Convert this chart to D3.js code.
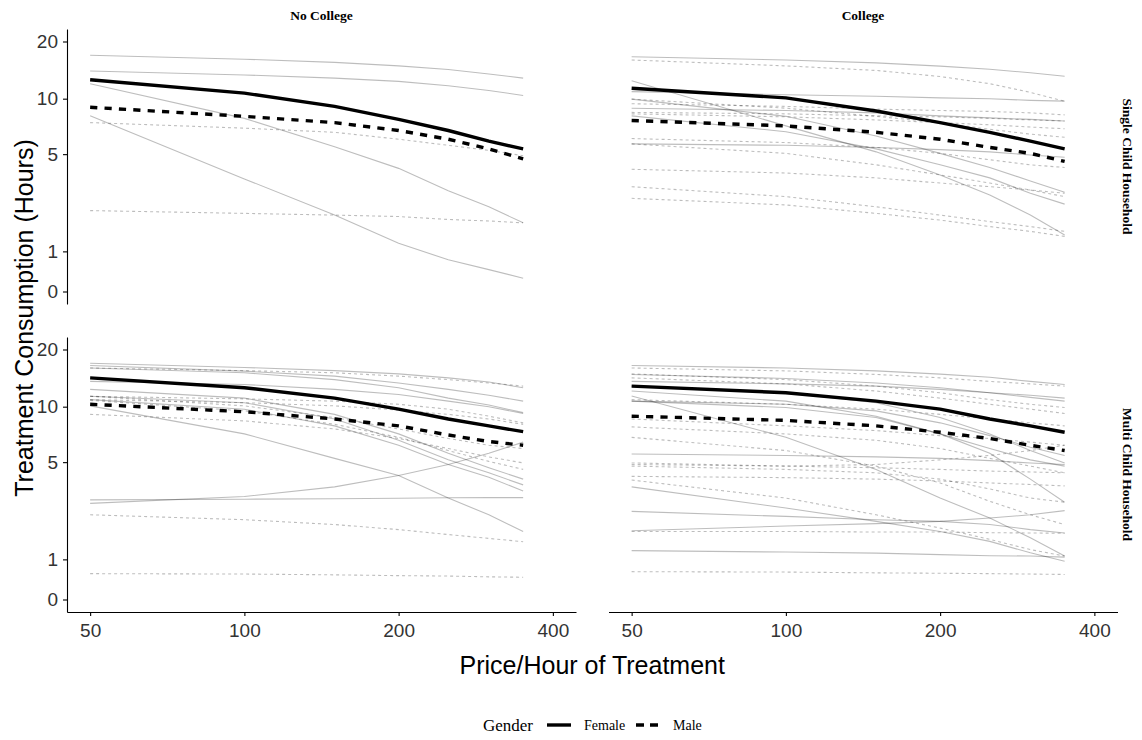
<!DOCTYPE html>
<html>
<head>
<meta charset="utf-8">
<script src="https://cdn.jsdelivr.net/npm/d3@7"></script>
<style>
  body { margin: 0; background: #fff; }
  .tick text { font-family: "Liberation Sans", Arial, sans-serif; font-size: 19px; fill: #333; }
  .tick line, .domain { stroke: #000; stroke-width: 1.1px; }
  .strip { font-family: "Liberation Serif", "Times New Roman", serif; font-weight: bold; font-size: 13.5px; }
  .title { font-family: "Liberation Sans", Arial, sans-serif; font-size: 25px; }
  .legend { font-family: "Liberation Serif", "Times New Roman", serif; }
</style>
</head>
<body>
<div id="chart"></div>
<script>
/* demand curves, faceted by college x household */

const prices = [50, 100, 150, 200, 250, 300, 350];
const xTicks = [50, 100, 200, 400];
const yTicks = [0, 1, 5, 10, 20];
const colleges = ["No College", "College"];
const households = ["Single Child Household", "Multi Child Household"];
const genders = ["Female", "Male"];

// No College, single child
const ncSingleFemale = [
  [16.95, 16.15, 15.55, 14.9, 14.25, 13.5, 12.85],
  [14.0, 13.35, 12.85, 12.35, 11.7, 11.05, 10.4],
  [12.0, 7.85, 5.5, 4.15, 3.05, 2.4, 1.84],
  [8.1, 3.6, 2.1, 1.22, 0.78, 0.53, 0.32]
];
const ncSingleMale = [
  [7.45, 6.95, 6.6, 6.05, 5.6, 5.25, 4.9],
  [2.26, 2.16, 2.1, 2.05, 1.95, 1.9, 1.84]
];
const ncSingleMeanF = [12.6, 10.7, 9.1, 7.75, 6.75, 5.9, 5.35];
const ncSingleMeanM = [9.0, 8.05, 7.45, 6.75, 6.05, 5.35, 4.7];

// College, single child
const cSingleFemale = [
  [16.65, 16.0, 15.45, 14.85, 14.3, 13.7, 13.15],
  [10.9, 10.5, 10.3, 10.1, 10.0, 9.8, 9.7],
  [12.45, 7.15, 5.15, 3.8, 2.87, 2.1, 1.46],
  [8.9, 8.65, 8.4, 8.1, 7.9, 7.75, 7.6],
  [8.1, 6.65, 5.35, 4.35, 3.65, 2.94, 2.5],
  [5.7, 5.6, 5.45, 5.3, 5.15, 4.95, 4.8],
  [9.95, 8.05, 6.3, 5.05, 4.2, 3.5, 2.98]
];
const cSingleMale = [
  [16.0, 14.9, 14.1, 13.1, 12.0, 10.8, 9.7],
  [9.4, 9.1, 8.8, 8.65, 8.55, 8.4, 8.2],
  [8.45, 8.3, 8.1, 8.0, 7.85, 7.7, 7.6],
  [8.3, 8.0, 7.7, 7.45, 7.25, 7.05, 6.9],
  [9.95, 8.9, 8.05, 7.45, 6.85, 6.45, 6.2],
  [6.1, 5.8, 5.45, 5.05, 4.65, 4.35, 4.2],
  [5.7, 5.05, 4.35, 3.8, 3.4, 3.08, 2.8],
  [4.1, 3.9, 3.65, 3.4, 3.23, 3.08, 2.94],
  [3.23, 2.8, 2.4, 2.1, 1.88, 1.72, 1.57],
  [2.73, 2.47, 2.16, 1.93, 1.72, 1.57, 1.42]
];
const cSingleMeanF = [11.35, 10.1, 8.6, 7.45, 6.6, 5.9, 5.35];
const cSingleMeanM = [7.65, 7.15, 6.6, 6.05, 5.45, 5.05, 4.55];

// No College, multi child
const ncMultiFemale = [
  [16.95, 16.1, 15.5, 14.9, 14.2, 13.5, 12.6],
  [16.5, 15.4, 14.5, 13.35, 12.35, 11.5, 10.7],
  [16.0, 15.1, 13.9, 12.6, 11.1, 10.2, 9.3],
  [13.6, 13.1, 12.35, 11.6, 10.7, 10.0, 9.2],
  [12.35, 11.1, 9.1, 7.15, 5.6, 4.65, 4.0],
  [11.35, 10.5, 8.6, 6.6, 5.15, 4.35, 3.7],
  [10.9, 9.7, 7.9, 6.2, 4.85, 4.1, 3.4],
  [10.1, 7.15, 5.25, 4.2, 3.08, 2.4, 1.82],
  [3.0, 3.03, 3.05, 3.07, 3.09, 3.1, 3.1],
  [2.85, 3.15, 3.6, 4.2, 4.85, 5.6, 6.45]
];
const ncMultiMale = [
  [16.0, 15.5, 15.1, 14.5, 13.9, 13.35, 12.85],
  [11.35, 11.0, 10.7, 10.3, 9.7, 8.9, 8.2],
  [10.9, 10.5, 10.1, 9.6, 9.1, 8.6, 8.05],
  [9.1, 8.4, 7.6, 6.75, 5.95, 5.35, 4.95],
  [10.8, 9.5, 8.05, 6.85, 5.8, 5.05, 4.55],
  [2.4, 2.22, 2.05, 1.88, 1.72, 1.6, 1.5],
  [0.63, 0.62, 0.6, 0.58, 0.57, 0.55, 0.54],
  [11.35, 10.1, 8.75, 7.6, 6.75, 6.2, 5.95]
];
const ncMultiMeanF = [14.2, 12.6, 11.1, 9.7, 8.6, 7.9, 7.35];
const ncMultiMeanM = [10.3, 9.4, 8.6, 7.9, 7.05, 6.5, 6.2];

// College, multi child
const cMultiFemale = [
  [16.5, 16.0, 15.45, 14.85, 14.3, 13.6, 13.1],
  [14.8, 14.1, 13.35, 12.6, 11.85, 11.2, 10.7],
  [13.6, 13.2, 12.85, 12.35, 11.85, 11.5, 11.1],
  [12.1, 10.7, 8.9, 7.15, 5.95, 5.15, 4.75],
  [11.4, 6.85, 4.55, 3.08, 2.28, 1.62, 1.09],
  [10.7, 10.3, 9.5, 8.2, 7.0, 6.05, 5.45],
  [5.55, 5.45, 5.35, 5.25, 5.1, 4.95, 4.85],
  [3.6, 2.66, 2.16, 1.82, 1.51, 1.18, 0.95],
  [2.53, 2.34, 2.22, 2.16, 2.05, 1.88, 1.77],
  [1.84, 2.0, 2.08, 2.16, 2.28, 2.4, 2.56],
  [1.24, 1.2, 1.17, 1.13, 1.1, 1.09, 1.06],
  [12.85, 11.85, 10.5, 8.75, 7.15, 5.8, 4.95],
  [10.7, 9.9, 8.75, 7.15, 5.6, 4.0, 2.9]
];
const cMultiMale = [
  [16.0, 15.45, 14.8, 14.2, 13.6, 13.2, 12.85],
  [14.9, 13.9, 12.85, 11.85, 10.9, 10.3, 9.9],
  [14.2, 13.2, 12.1, 11.1, 10.3, 9.7, 9.2],
  [10.9, 10.3, 9.7, 9.1, 8.6, 8.2, 7.9],
  [7.8, 7.15, 6.6, 5.95, 5.25, 4.75, 4.35],
  [6.85, 5.8, 4.75, 3.8, 2.94, 2.4, 2.05],
  [4.95, 4.75, 4.65, 4.55, 4.45, 4.4, 4.35],
  [4.75, 4.55, 4.35, 4.0, 3.5, 3.08, 2.9],
  [4.15, 4.08, 4.0, 3.9, 3.8, 3.72, 3.65],
  [3.95, 3.08, 2.4, 1.93, 1.57, 1.27, 1.09],
  [1.82, 1.82, 1.8, 1.8, 1.78, 1.77, 1.76],
  [0.68, 0.67, 0.65, 0.64, 0.63, 0.62, 0.61],
  [8.6, 7.9, 7.45, 7.0, 6.75, 6.45, 6.2],
  [4.85, 4.75, 4.85, 5.15, 5.45, 5.8, 6.2]
];
const cMultiMeanF = [12.85, 11.85, 10.7, 9.7, 8.6, 7.9, 7.3];
const cMultiMeanM = [8.9, 8.45, 7.9, 7.3, 6.75, 6.2, 5.8];

const panels = [
  { col: 0, row: 0, female: ncSingleFemale, male: ncSingleMale, meanF: ncSingleMeanF, meanM: ncSingleMeanM },
  { col: 1, row: 0, female: cSingleFemale, male: cSingleMale, meanF: cSingleMeanF, meanM: cSingleMeanM },
  { col: 0, row: 1, female: ncMultiFemale, male: ncMultiMale, meanF: ncMultiMeanF, meanM: ncMultiMeanM },
  { col: 1, row: 1, female: cMultiFemale, male: cMultiMale, meanF: cMultiMeanF, meanM: cMultiMeanM }
];

const width = 1142, height = 740;
const panelW = 509, panelH = 275;
const panelX = [67, 608.5],
    panelY = [29, 337];

const svg = d3.select("#chart")
    .append("svg")
    .attr("width", width)
    .attr("height", height);

// inverse hyperbolic sine on y, log on x, both padded 5%
const ihs = v => Math.asinh(v / 2);
const yPad = ihs(20) * 0.05;
const yInner = d3.scaleLinear()
    .domain([-yPad, ihs(20) + yPad])
    .range([panelH, 0]);
const y = v => yInner(ihs(v));

const x = d3.scaleLog()
    .domain([50 / Math.pow(2, 0.15), 400 * Math.pow(2, 0.15)])
    .range([0, panelW]);

const line = d3.line()
    .x((d, i) => x(prices[i]))
    .y(d => y(d));

panels.forEach(p => {
  const g = svg.append("g")
      .attr("transform", `translate(${panelX[p.col]},${panelY[p.row]})`);

  g.selectAll(".fem").data(p.female).join("path")       // individual females
      .attr("d", line)
      .attr("fill", "none")
      .attr("stroke", "#000")
      .attr("stroke-opacity", 0.26)
      .attr("stroke-width", 1.1);

  g.selectAll(".mal").data(p.male).join("path")          // individual males
      .attr("d", line)
      .attr("fill", "none")
      .attr("stroke", "#000")
      .attr("stroke-opacity", 0.26)
      .attr("stroke-width", 1.1)
      .attr("stroke-dasharray", "3,3");

  g.append("path")                // mean female
      .datum(p.meanF)
      .attr("d", line)
      .attr("fill", "none")
      .attr("stroke", "#000")
      .attr("stroke-width", 3.4);

  g.append("path")                // mean male
      .datum(p.meanM)
      .attr("d", line)
      .attr("fill", "none")
      .attr("stroke", "#000")
      .attr("stroke-width", 3.4)
      .attr("stroke-dasharray", "7.2,7.2");

  if (p.col === 0) {
    g.append("g")
        .call(d3.axisLeft(yInner)
            .tickValues(yTicks.map(ihs))
            .tickFormat(d => Math.round(2 * Math.sinh(d)))
            .tickSize(4).tickPadding(5).tickSizeOuter(0));
  }
  if (p.row === 1) {
    g.append("g")
        .attr("transform", `translate(0,${panelH})`)
        .call(d3.axisBottom(x)
            .tickValues(xTicks)
            .tickFormat(d3.format("d"))
            .tickSize(4).tickPadding(8).tickSizeOuter(0));
  }
  if (p.row === 0) {
    svg.append("text")
        .attr("class", "strip")
        .attr("x", panelX[p.col] + panelW / 2)
        .attr("y", 15)
        .attr("dy", "0.35em")
        .attr("text-anchor", "middle")
        .text(colleges[p.col]);
  }
  if (p.col === 1) {
    svg.append("text")
        .attr("class", "strip")
        .attr("transform", `translate(1128,${panelY[p.row] + panelH / 2}) rotate(90)`)
        .attr("dy", "0.35em")
        .attr("text-anchor", "middle")
        .text(households[p.row]);
  }
});

svg.append("text")            // y title
    .attr("class", "title")
    .attr("transform", "translate(24,318) rotate(-90)")
    .attr("dy", "0.35em")
    .attr("text-anchor", "middle")
    .text("Treatment Consumption (Hours)");

svg.append("text")            // x title
    .attr("class", "title")
    .attr("x", (panelX[0] + panelX[1] + panelW) / 2)
    .attr("y", 674)
    .attr("text-anchor", "middle")
    .text("Price/Hour of Treatment");

// legend
const lg = svg.append("g").attr("class", "legend");
lg.append("text")
    .attr("x", 483).attr("y", 730.5)
    .attr("font-size", 17)
    .text("Gender");
const keyX = [547, 636], labX = [584, 673];
genders.forEach((gname, i) => {
  lg.append("line")
      .attr("x1", keyX[i]).attr("x2", keyX[i] + 24)
      .attr("y1", 725).attr("y2", 725)
      .attr("stroke", "#000")
      .attr("stroke-width", 3.4)
      .attr("stroke-dasharray", i === 1 ? "8,6" : null);
  lg.append("text")
      .attr("x", labX[i]).attr("y", 729.5)
      .attr("font-size", 14)
      .text(gname);
});
</script>
</body>
</html>
